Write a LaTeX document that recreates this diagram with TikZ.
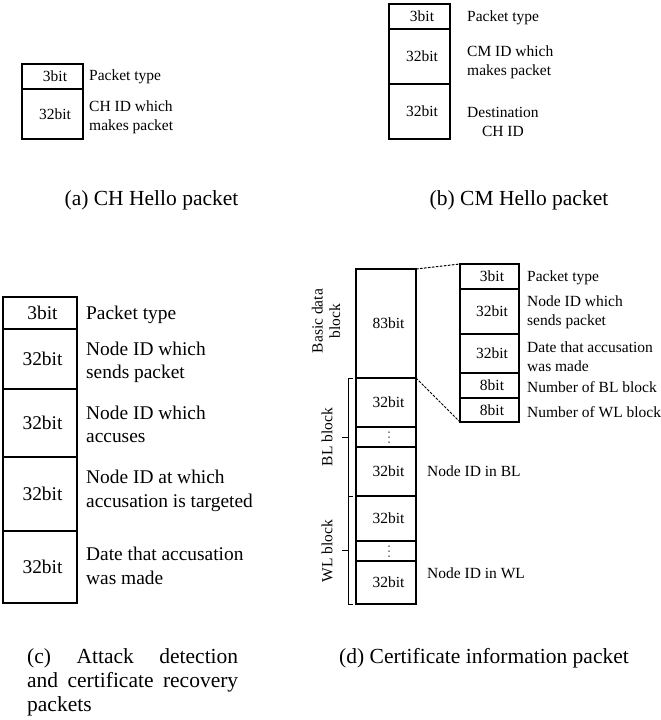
\documentclass[tikz,border=0pt]{standalone}
\usepackage{fontspec}
\setmainfont{Liberation Serif}
\usetikzlibrary{calc}
\begin{document}
\begin{tikzpicture}[x=1pt,y=-1pt,
  sm/.style={font=\fontsize{15.5}{19}\selectfont},
  md/.style={font=\fontsize{19.4}{23.5}\selectfont},
  captxt/.style={font=\fontsize{21.5}{24}\selectfont, inner sep=0pt},
  cell/.style={draw, line width=1.1pt, inner sep=0pt, outer sep=0pt,
    anchor=north west, minimum width=#1},
  lbl/.style={anchor=west, align=left, inner sep=0pt},
  outer/.style={line width=1.9pt},
  link/.style={dash pattern=on 2.6pt off 1.4pt, line width=1pt},
  brace/.style={line width=1pt},
  sh/.style={execute at begin node=\hspace*{5pt}},
  dotmark/.style={fill=black}]
\useasboundingbox (0,0) rectangle (661,720);

% ---------- (a) CH Hello packet ----------
\node[cell=61pt, sm, sh, minimum height=25pt] (a1) at (22,64) {3bit};
\node[cell=61pt, sm, sh, minimum height=50pt] (a2) at (a1.south west) {32bit};
\draw[outer] (a1.north west) rectangle (a2.south east);
\node[lbl, sm] (a1t) at (89,77) {Packet type};
\node[lbl, sm] (a2t) at (89,117.5) {CH ID which\\makes packet};
\node[captxt, anchor=base] (acap) at (151.5,205) {(a) CH Hello packet};

% ---------- (b) CM Hello packet ----------
\node[cell=61pt, sm, sh, minimum height=25pt] (b1) at (389,4) {3bit};
\node[cell=61pt, sm, sh, minimum height=55pt] (b2) at (b1.south west) {32bit};
\node[cell=61pt, sm, sh, minimum height=55pt] (b3) at (b2.south west) {32bit};
\draw[outer] (b1.north west) rectangle (b3.south east);
\node[lbl, sm] (b1t) at (467,18) {Packet type};
\node[lbl, sm] (b2t) at (467,62.5) {CM ID which\\makes packet};
\node[lbl, sm, align=center] (b3t) at (467,122) {Destination\\CH ID};
\node[captxt, anchor=base] (bcap) at (519,205) {(b) CM Hello packet};

% ---------- (c) Attack detection / certificate recovery ----------
\node[cell=74pt, md, sh, minimum height=32pt] (c1) at (3,297) {3bit};
\node[cell=74pt, md, sh, minimum height=60pt] (c2) at (c1.south west) {32bit};
\node[cell=74pt, md, sh, minimum height=68pt] (c3) at (c2.south west) {32bit};
\node[cell=74pt, md, sh, minimum height=74pt] (c4) at (c3.south west) {32bit};
\node[cell=74pt, md, sh, minimum height=72pt] (c5) at (c4.south west) {32bit};
\draw[outer] (c1.north west) rectangle (c5.south east);
\node[lbl, md] (c1t) at (86,315) {Packet type};
\node[lbl, md] (c2t) at (86,362.5) {Node ID which\\sends packet};
\node[lbl, md] (c3t) at (86,424.5) {Node ID which\\accuses};
\node[lbl, md] (c4t) at (86,491) {Node ID at which\\accusation is targeted};
\node[lbl, md] (c5t) at (86,566) {Date that accusation\\was made};
\node[captxt, anchor=base west] (ccap1) at (27,663) {\makebox[211pt][s]{(c) Attack detection}};
\node[captxt, anchor=base west] (ccap2) at (27,687) {\makebox[211pt][s]{and certificate recovery}};
\node[captxt, anchor=base west] (ccap3) at (27,711) {packets};

% ---------- (d) Certificate information packet ----------
% main column
\node[cell=60pt, sm, sh, minimum height=109pt] (m1) at (356,269) {83bit};
\node[cell=60pt, sm, sh, minimum height=49pt] (m2) at (m1.south west) {32bit};
\node[cell=60pt, minimum height=20pt] (m3) at (m2.south west) {};
\node[cell=60pt, sm, sh, minimum height=49pt] (m4) at (m3.south west) {32bit};
\node[cell=60pt, sm, sh, minimum height=45pt] (m5) at (m4.south west) {32bit};
\node[cell=60pt, minimum height=20pt] (m6) at (m5.south west) {};
\node[cell=60pt, sm, sh, minimum height=43pt] (m7) at (m6.south west) {32bit};
\draw[outer] (m1.north west) rectangle (m7.south east);

% vertical ellipses in the gap cells
\foreach \g in {m3,m6}{
  \foreach \dy in {-5,0,5}{
    \fill[dotmark] ([xshift=3pt,yshift=\dy pt]\g.center) circle (0.75pt);
  }
}

% detail of the basic data block
\node[cell=59pt, sm, sh, minimum height=25pt] (d1) at (460,264) {3bit};
\node[cell=59pt, sm, sh, minimum height=45pt] (d2) at (d1.south west) {32bit};
\node[cell=59pt, sm, sh, minimum height=39pt] (d3) at (d2.south west) {32bit};
\node[cell=59pt, sm, sh, minimum height=25pt] (d4) at (d3.south west) {8bit};
\node[cell=59pt, sm, sh, minimum height=24pt] (d5) at (d4.south west) {8bit};
\draw[outer] (d1.north west) rectangle (d5.south east);
\draw[link] (m1.north east) -- (d1.north west);
\draw[link] (m1.south east) -- (d5.south west);

\node[lbl, sm] (d1t) at (527,278) {Packet type};
\node[lbl, sm] (d2t) at (527,312.5) {Node ID which\\sends packet};
\node[lbl, sm] (d3t) at (527,357) {Date that accusation\\was made};
\node[lbl, sm] (d4t) at (527,387) {Number of BL block};
\node[lbl, sm] (d5t) at (527,412) {Number of WL block};
\node[lbl, sm] (m4t) at (427,471) {Node ID in BL};
\node[lbl, sm] (m7t) at (427,573) {Node ID in WL};

% brackets grouping the list blocks
\draw[brace] ([xshift=-3pt]m2.north west) -- ([xshift=-8pt]m2.north west)
  -- ([xshift=-8pt]m4.south west) -- ([xshift=-3pt]m4.south west);
\draw[brace] ($(m2.north west)!0.5!(m4.south west)+(-8,0)$) -- ++(-6,0);
\draw[brace] ([xshift=-3pt]m5.north west) -- ([xshift=-8pt]m5.north west)
  -- ([xshift=-8pt]m7.south west) -- ([xshift=-3pt]m7.south west);
\draw[brace] ($(m5.north west)!0.5!(m7.south west)+(-8,0)$) -- ++(-6,0);

\node[sm, rotate=90, inner sep=0pt] (blb) at (327,437) {BL block};
\node[sm, rotate=90, inner sep=0pt] (wlb) at (327,551) {WL block};
\node[font=\fontsize{15.5}{17.5}\selectfont, rotate=90, align=center, inner sep=0pt]
  (bdb) at (326,321) {Basic data\\block};

\node[captxt, anchor=base] (dcap) at (484,663) {(d) Certificate information packet};
\end{tikzpicture}
\end{document}
